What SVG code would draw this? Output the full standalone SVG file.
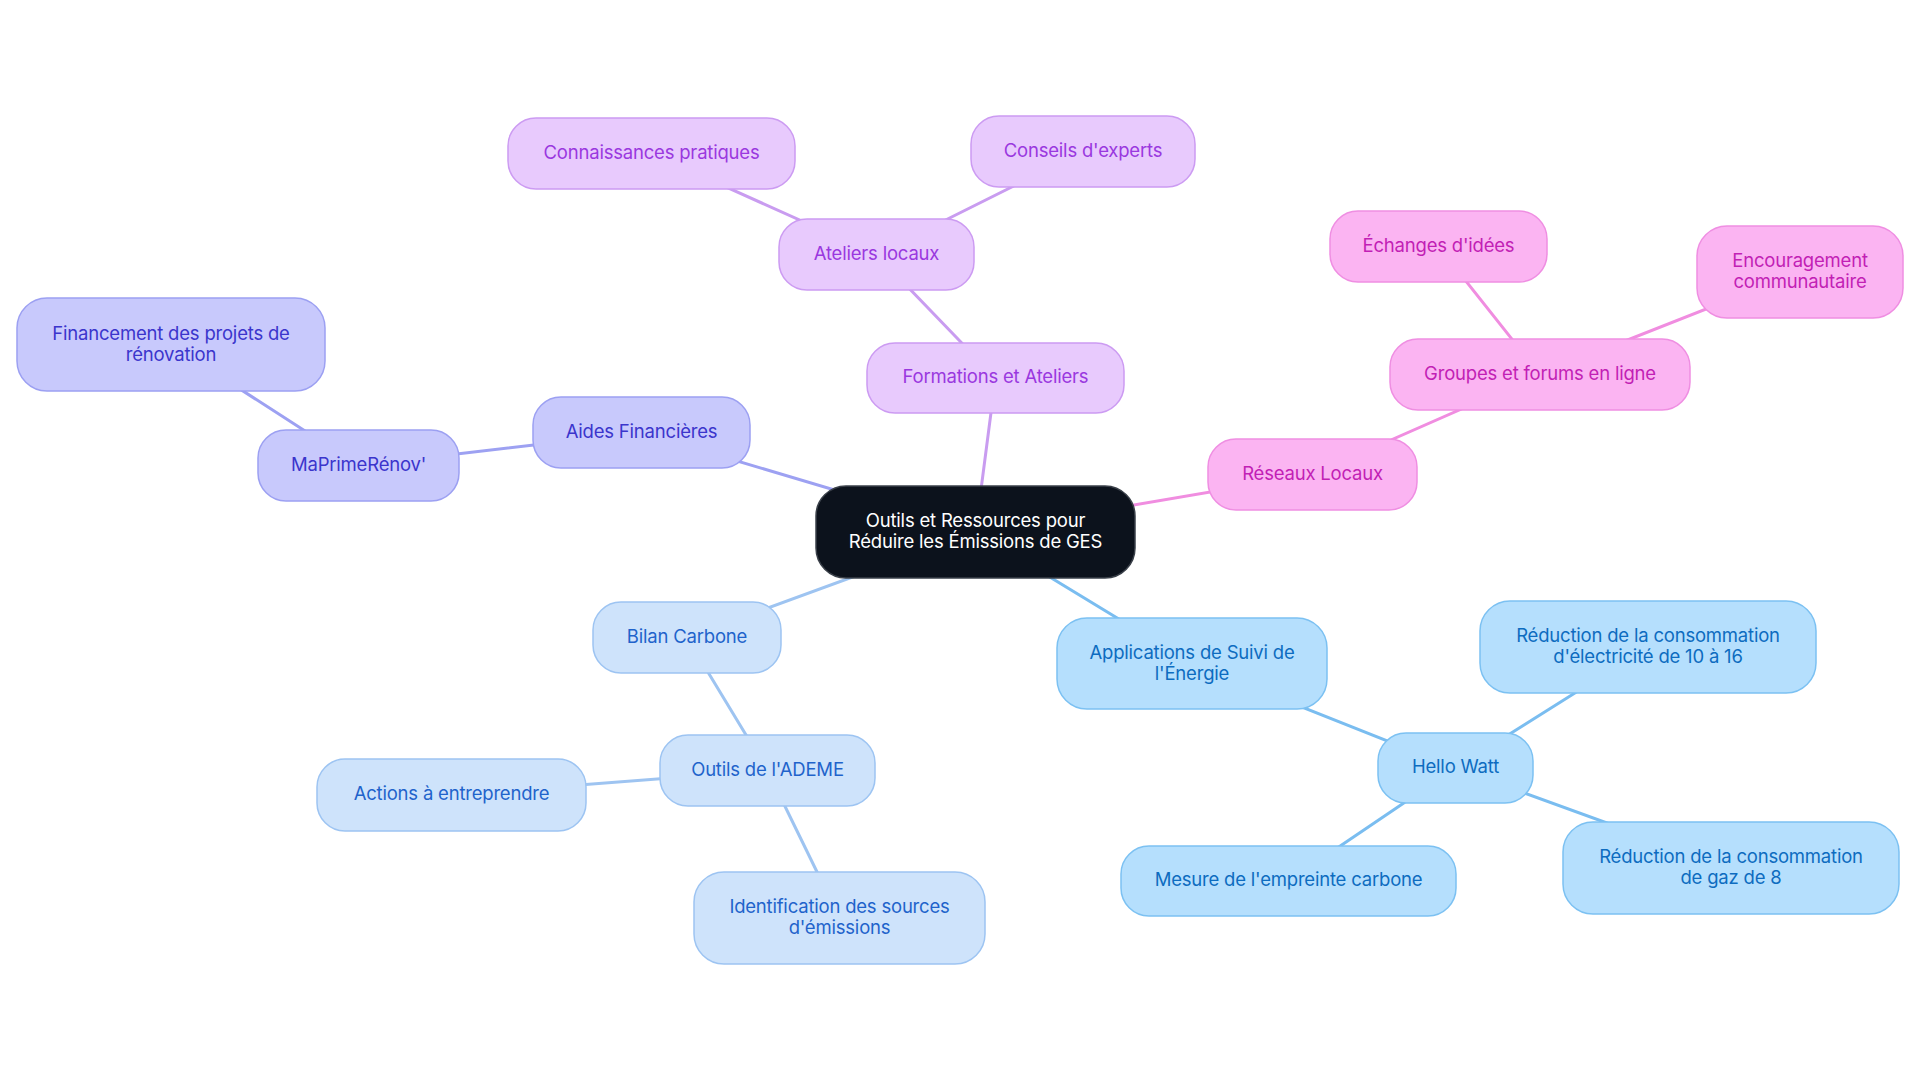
<svg xmlns="http://www.w3.org/2000/svg" width="1920" height="1083" viewBox="0 0 1920 1083">
<style>
text{font-family:Inter,"Liberation Sans","DejaVu Sans",sans-serif;font-size:18.5px;letter-spacing:-0.2px;text-anchor:middle}
.n rect{stroke-width:1.5}
.e line{stroke-width:3;stroke-linecap:round}
.root rect{fill:#0c121c;stroke:#3a4049;stroke-width:1.5}
.root text{fill:#ffffff}
.pu rect{fill:#e8cafd;stroke:#cc9bf2}
.pu text{fill:#9a38df}
.in rect{fill:#c8c9fc;stroke:#9ca0f2}
.in text{fill:#3b35cc}
.pk rect{fill:#fbb4f2;stroke:#ef8ee2}
.pk text{fill:#c21fb5}
.lb rect{fill:#b5dffd;stroke:#7cc1f2}
.lb text{fill:#0d6cc0}
.pb rect{fill:#cee3fb;stroke:#9dc4f2}
.pb text{fill:#1f63cb}
.epu{stroke:#c99cf0}
.ein{stroke:#9da1f2}
.epk{stroke:#f08de0}
.elb{stroke:#7abdf0}
.epb{stroke:#9ec4f1}
</style>
<rect width="1920" height="1083" fill="#ffffff"/>
<g id="connectors" class="e">
<line class="epu" x1="975.5" y1="532" x2="995.5" y2="378"/>
<line class="epu" x1="995.5" y1="378" x2="876.5" y2="254.5"/>
<line class="epu" x1="876.5" y1="254.5" x2="651.5" y2="153.5"/>
<line class="epu" x1="876.5" y1="254.5" x2="1083" y2="151.5"/>
<line class="ein" x1="975.5" y1="532" x2="641.5" y2="432.5"/>
<line class="ein" x1="641.5" y1="432.5" x2="358.5" y2="465.5"/>
<line class="ein" x1="358.5" y1="465.5" x2="171" y2="344.5"/>
<line class="epk" x1="975.5" y1="532" x2="1312.5" y2="474.5"/>
<line class="epk" x1="1312.5" y1="474.5" x2="1540" y2="374.5"/>
<line class="epk" x1="1540" y1="374.5" x2="1438.5" y2="246.5"/>
<line class="epk" x1="1540" y1="374.5" x2="1800" y2="272"/>
<line class="elb" x1="975.5" y1="532" x2="1192" y2="663.5"/>
<line class="elb" x1="1192" y1="663.5" x2="1455.5" y2="768"/>
<line class="elb" x1="1455.5" y1="768" x2="1648" y2="647"/>
<line class="elb" x1="1455.5" y1="768" x2="1731" y2="868"/>
<line class="elb" x1="1455.5" y1="768" x2="1288.5" y2="881"/>
<line class="epb" x1="975.5" y1="532" x2="687" y2="637.5"/>
<line class="epb" x1="687" y1="637.5" x2="767.5" y2="770.5"/>
<line class="epb" x1="767.5" y1="770.5" x2="451.5" y2="795"/>
<line class="epb" x1="767.5" y1="770.5" x2="839.5" y2="918"/>
</g>
<g id="root" class="n root"><rect x="816" y="486" width="319" height="92" rx="30"/><text x="975.5" y="527">Outils et Ressources pour</text><text x="975.5" y="548">Réduire les Émissions de GES</text></g>
<g id="formations" class="n pu"><rect x="867" y="343" width="257" height="70" rx="28"/><text x="995.5" y="383">Formations et Ateliers</text></g>
<g id="ateliers" class="n pu"><rect x="779" y="219" width="195" height="71" rx="28"/><text x="876.5" y="259.5">Ateliers locaux</text></g>
<g id="connaissances" class="n pu"><rect x="508" y="118" width="287" height="71" rx="28"/><text x="651.5" y="158.5">Connaissances pratiques</text></g>
<g id="conseils" class="n pu"><rect x="971" y="116" width="224" height="71" rx="28"/><text x="1083" y="156.5">Conseils d'experts</text></g>
<g id="aides" class="n in"><rect x="533" y="397" width="217" height="71" rx="28"/><text x="641.5" y="437.5">Aides Financières</text></g>
<g id="maprime" class="n in"><rect x="258" y="430" width="201" height="71" rx="28"/><text x="358.5" y="470.5">MaPrimeRénov'</text></g>
<g id="financement" class="n in"><rect x="17" y="298" width="308" height="93" rx="30"/><text x="171" y="339.5">Financement des projets de</text><text x="171" y="360.5">rénovation</text></g>
<g id="reseaux" class="n pk"><rect x="1208" y="439" width="209" height="71" rx="28"/><text x="1312.5" y="479.5">Réseaux Locaux</text></g>
<g id="groupes" class="n pk"><rect x="1390" y="339" width="300" height="71" rx="28"/><text x="1540" y="379.5">Groupes et forums en ligne</text></g>
<g id="echanges" class="n pk"><rect x="1330" y="211" width="217" height="71" rx="28"/><text x="1438.5" y="251.5">Échanges d'idées</text></g>
<g id="encouragement" class="n pk"><rect x="1697" y="226" width="206" height="92" rx="30"/><text x="1800" y="267">Encouragement</text><text x="1800" y="288">communautaire</text></g>
<g id="applications" class="n lb"><rect x="1057" y="618" width="270" height="91" rx="30"/><text x="1192" y="658.5">Applications de Suivi de</text><text x="1192" y="679.5">l'Énergie</text></g>
<g id="hellowatt" class="n lb"><rect x="1378" y="733" width="155" height="70" rx="28"/><text x="1455.5" y="773">Hello Watt</text></g>
<g id="reduction-elec" class="n lb"><rect x="1480" y="601" width="336" height="92" rx="30"/><text x="1648" y="642">Réduction de la consommation</text><text x="1648" y="663">d'électricité de 10 à 16</text></g>
<g id="reduction-gaz" class="n lb"><rect x="1563" y="822" width="336" height="92" rx="30"/><text x="1731" y="863">Réduction de la consommation</text><text x="1731" y="884">de gaz de 8</text></g>
<g id="mesure" class="n lb"><rect x="1121" y="846" width="335" height="70" rx="28"/><text x="1288.5" y="886">Mesure de l'empreinte carbone</text></g>
<g id="bilan" class="n pb"><rect x="593" y="602" width="188" height="71" rx="28"/><text x="687" y="642.5">Bilan Carbone</text></g>
<g id="ademe" class="n pb"><rect x="660" y="735" width="215" height="71" rx="28"/><text x="767.5" y="775.5">Outils de l'ADEME</text></g>
<g id="actions" class="n pb"><rect x="317" y="759" width="269" height="72" rx="28"/><text x="451.5" y="800">Actions à entreprendre</text></g>
<g id="identification" class="n pb"><rect x="694" y="872" width="291" height="92" rx="30"/><text x="839.5" y="913">Identification des sources</text><text x="839.5" y="934">d'émissions</text></g>
</svg>
